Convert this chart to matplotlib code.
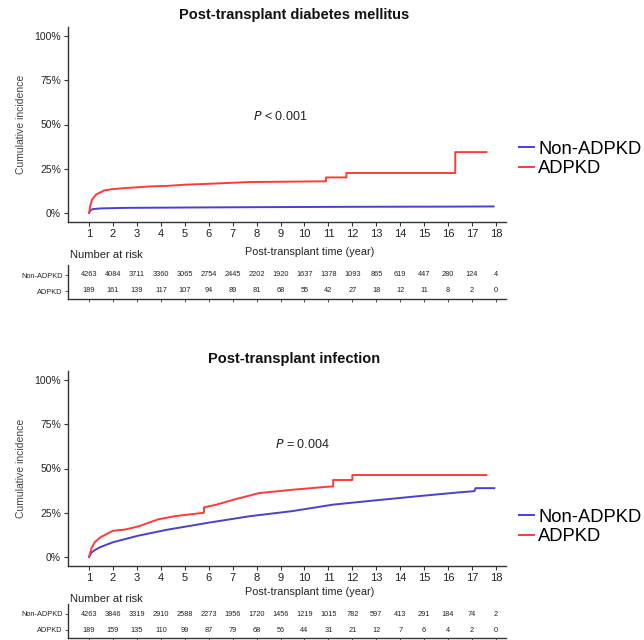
import numpy as np
import matplotlib.pyplot as plt

plt.rcParams['font.family'] = ['Liberation Sans', 'DejaVu Sans']

# cumulative incidence (%), time in years
dm_time_non = [1.0, 1.05, 1.15, 1.5, 2.5, 5.0, 8.0, 12.0, 16.0, 17.9]
dm_inc_non = [0, 1.5, 2.2, 2.6, 2.9, 3.1, 3.3, 3.5, 3.6, 3.7]
dm_time_adpkd = [1.0, 1.05, 1.12, 1.3, 1.64, 2.0, 2.5, 3.0, 3.5, 4.26, 5.0, 6.0,
                 7.74, 10.9, 10.9, 11.75, 11.75, 16.3, 16.3, 17.6]
dm_inc_adpkd = [0, 4, 7.5, 10.5, 12.8, 13.5, 14.1, 14.5, 15.0, 15.3, 16.0, 16.5,
                17.5, 17.9, 20.1, 20.1, 22.6, 22.6, 34.4, 34.4]

inf_time_non = [1.0, 1.1, 1.25, 1.47, 1.99, 3.04, 4.26, 6.0, 7.74, 9.48, 11.2,
                12.97, 14.7, 16.45, 17.1, 17.15, 17.93]
inf_inc_non = [0, 2.5, 4.0, 5.6, 8.3, 12.0, 15.4, 19.4, 23.1, 25.9, 29.6, 32.0,
               34.3, 36.5, 37.2, 38.9, 38.9]
inf_time_adpkd = [1.0, 1.1, 1.25, 1.47, 1.99, 2.5, 3.04, 3.9, 4.6, 5.8, 5.8, 6.3,
                  7.05, 8.1, 9.5, 11.05, 11.2, 11.2, 12.0, 12.0, 17.6]
inf_inc_adpkd = [0, 5.0, 8.5, 11.1, 14.8, 15.5, 17.2, 21.3, 23.1, 25.0, 28.0, 29.5,
                 32.4, 36.1, 38.0, 39.8, 39.8, 43.5, 43.5, 46.3, 46.3]

years = list(range(1, 19))
dm_risk_non = [4263, 4084, 3711, 3360, 3065, 2754, 2445, 2202, 1920, 1637, 1378,
               1093, 865, 619, 447, 280, 124, 4]
dm_risk_adpkd = [189, 161, 139, 117, 107, 94, 89, 81, 68, 55, 42, 27, 18, 12, 11, 8, 2, 0]
inf_risk_non = [4263, 3846, 3319, 2910, 2588, 2273, 1956, 1720, 1456, 1219, 1015,
                782, 597, 413, 291, 184, 74, 2]
inf_risk_adpkd = [189, 159, 135, 110, 99, 87, 79, 68, 56, 44, 31, 21, 12, 7, 6, 4, 2, 0]

groups = ["Non-ADPKD", "ADPKD"]
colors = ["#4b40cc", "#ff3a3a"]
txt = "#222222"
W, H = 644, 640


def fx(px):
    return px / W


def fy(py):
    return 1 - py / H


fig = plt.figure(figsize=(6.44, 6.40), dpi=100)


def panel(zero, title, p_text, p_x, p_y, times, incs, risks, leg_y,
          xlab_off, nar_off, tab_off):
    # zero = pixel row of the 0% line
    ppp = 1.77  # pixels per percent
    ax_top = zero - 105 * ppp
    ax_bot = zero + 5 * ppp
    ax = fig.add_axes([fx(68), fy(ax_bot), fx(438), (ax_bot - ax_top) / H])
    for t, v, c, g in zip(times, incs, colors, groups):
        ax.plot(t, np.array(v) / 100, color=c, lw=1.4, label=g)
    ax.set_xlim(0.12, 18.42)
    ax.set_ylim(-0.05, 1.05)
    ax.set_xticks(years)
    ax.set_yticks([0, 0.25, 0.5, 0.75, 1.0])
    ax.set_yticklabels(["0%", "25%", "50%", "75%", "100%"])
    ax.tick_params(labelsize=7.5, colors="#333333", labelcolor=txt, length=3, width=0.8, pad=2)
    ax.tick_params(axis='x', labelsize=8)
    for s in ["top", "right"]:
        ax.spines[s].set_visible(False)
    for s in ["left", "bottom"]:
        ax.spines[s].set_color("#333333")
        ax.spines[s].set_linewidth(1.0)
    ax.set_ylabel("Cumulative incidence", fontsize=7.5, color="#444444", labelpad=6)
    fig.text(fx(294), fy(zero - 198), title, fontsize=10.5, fontweight="bold",
             ha="center", va="center", color="#111111")
    fig.text(fx(p_x), fy(p_y), p_text, fontsize=9, ha="center", va="center", color=txt)
    fig.text(fx(310), fy(zero + xlab_off), "Post-transplant time (year)", fontsize=7.8,
             ha="center", va="center", color=txt)
    fig.text(fx(70), fy(zero + nar_off), "Number at risk", fontsize=8,
             ha="left", va="center", color=txt)
    ax.legend(loc="center left", bbox_to_anchor=(fx(519), fy(leg_y)),
              bbox_transform=fig.transFigure, frameon=False, fontsize=13.2,
              handlelength=0.8, handletextpad=0.25, labelspacing=0.15,
              borderpad=0, borderaxespad=0)

    # risk table
    rt = fig.add_axes([fx(68), fy(zero + tab_off), fx(438), 34 / H])
    rt.set_xlim(0.12, 18.42)
    rt.set_ylim(-0.5, 1.625)
    for row, vals in zip([1, 0], risks):
        for x, n in zip(years, vals):
            rt.text(x, row, str(n), fontsize=5.3, ha="center", va="center", color=txt)
    rt.set_yticks([1, 0])
    rt.set_yticklabels(groups, fontsize=5.3)
    rt.set_xticks(years)
    rt.set_xticklabels([])
    rt.tick_params(length=2, width=0.6, colors="#333333", labelcolor=txt, pad=2)
    for s in ["top", "right"]:
        rt.spines[s].set_visible(False)
    for s in ["left", "bottom"]:
        rt.spines[s].set_color("#333333")
        rt.spines[s].set_linewidth(1.0)
    return ax


panel(213, "Post-transplant diabetes mellitus", "$P$ < 0.001", 280, 116,
      [dm_time_non, dm_time_adpkd], [dm_inc_non, dm_inc_adpkd],
      [dm_risk_non, dm_risk_adpkd], 159, 39, 42, 86)
panel(557, "Post-transplant infection", "$P$ = 0.004", 302, 445,
      [inf_time_non, inf_time_adpkd], [inf_inc_non, inf_inc_adpkd],
      [inf_risk_non, inf_risk_adpkd], 527, 35, 42, 81)

fig.savefig("out.png", dpi=100)
